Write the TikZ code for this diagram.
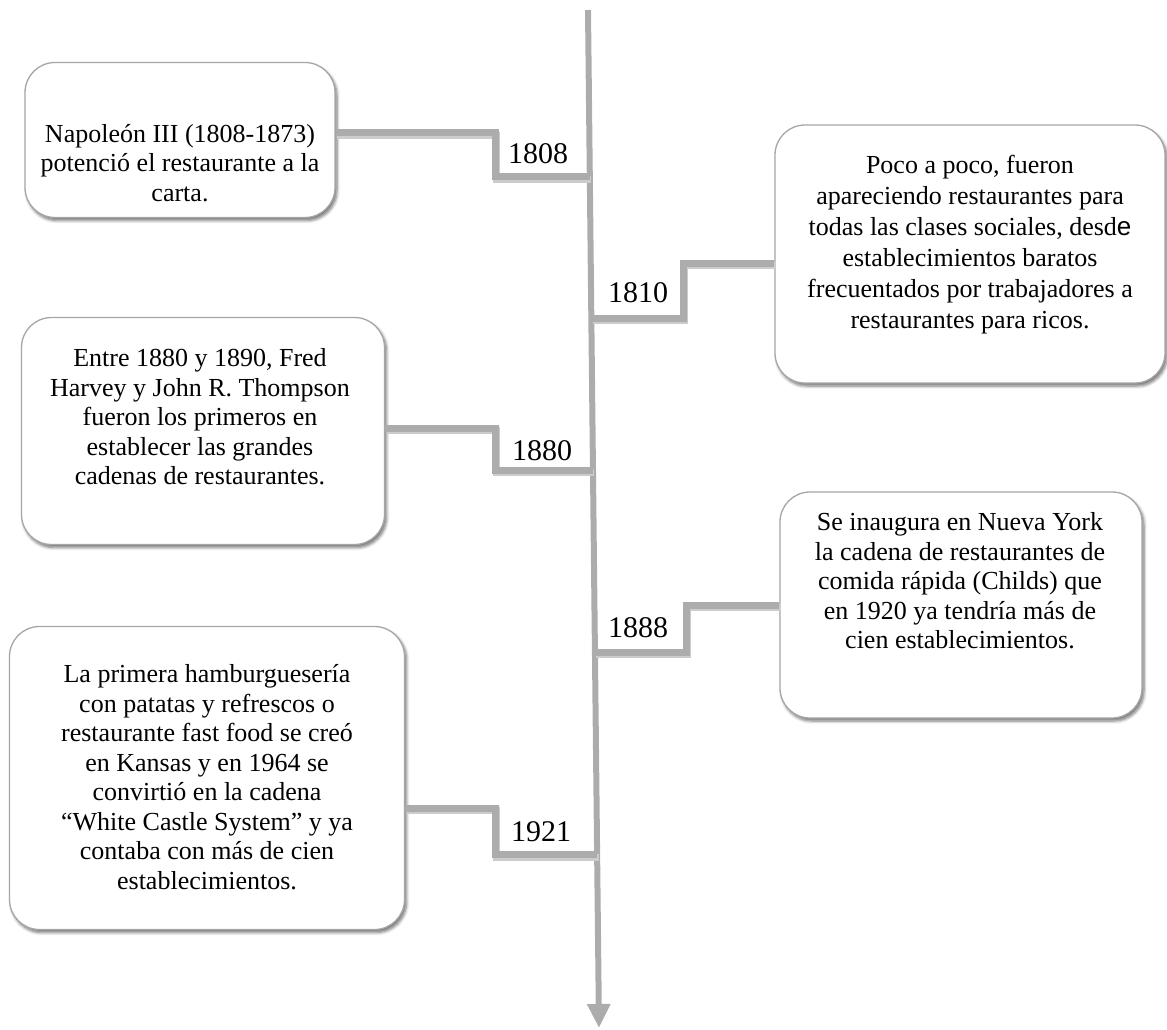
\documentclass[tikz,border=0pt]{standalone}
\usepackage{fontspec}
\setmainfont{Liberation Serif}
\newfontfamily\efont{Liberation Sans}
\usetikzlibrary{arrows.meta,calc,shadows.blur}

\begin{document}
\begin{tikzpicture}[x=1pt,y=-1pt,
    card/.style={draw=gray!70,line width=1.3pt,fill=white,rounded corners=30pt,
      blur shadow={shadow xshift=2pt,shadow yshift=-3pt,shadow blur radius=3pt,
        shadow blur steps=6,shadow opacity=55}},
    txt/.style={align=center,inner sep=0pt,font=\fontsize{26}{29.5}\selectfont},
    year/.style={inner sep=0pt,font=\fontsize{30}{32}\selectfont},
    conn/.style={draw=gray!65,line width=7pt,
      preaction={draw=black!20,line width=7pt,transform canvas={shift={(1.5pt,-2.5pt)}}}},
  ]
    \useasboundingbox (0,0) rectangle (1167,1030);

    \coordinate (top) at (588,10);
    \coordinate (bottom) at (599,1028);

    \coordinate (t1808) at ($(top)!0.164!(bottom)$);
    \coordinate (t1810) at ($(top)!0.303!(bottom)$);
    \coordinate (t1880) at ($(top)!0.452!(bottom)$);
    \coordinate (t1888) at ($(top)!0.631!(bottom)$);
    \coordinate (t1921) at ($(top)!0.830!(bottom)$);

    \draw[draw=gray!65,line width=6pt,-{Triangle[width=22pt,length=24pt]}] (top) -- (bottom);

    \node[card,minimum width=310pt,minimum height=155pt] (napoleon) at (180,140) {};
    \node[card,minimum width=390pt,minimum height=258pt] (poco) at (970,254) {};
    \node[card,minimum width=363pt,minimum height=227pt] (harvey) at (203,431) {};
    \node[card,minimum width=362pt,minimum height=226pt] (childs) at (961,605) {};
    \node[card,minimum width=395pt,minimum height=303pt] (castle) at (207,778) {};

    \node[txt] (napoleontxt) at (180,163) {Napoleón III (1808-1873)\\potenció el restaurante a la\\carta.};
    \node[txt,font=\fontsize{26}{31}\selectfont] (pocotxt) at (970,245) {Poco a poco, fueron\\apareciendo restaurantes para\\todas las clases sociales, desd{\efont e}\\establecimientos baratos\\frecuentados por trabajadores a\\restaurantes para ricos.};
    \node[txt] (harveytxt) at (200,417) {Entre 1880 y 1890, Fred\\Harvey y John R. Thompson\\fueron los primeros en\\establecer las grandes\\cadenas de restaurantes.};
    \node[txt] (childstxt) at (960,581) {Se inaugura en Nueva York\\la cadena de restaurantes de\\comida rápida (Childs) que\\en 1920 ya tendría más de\\cien establecimientos.};
    \node[txt] (castletxt) at (207,777) {La primera hamburguesería\\con patatas y refrescos o\\restaurante fast food se creó\\en Kansas y en 1964 se\\convirtió en la cadena\\“White Castle System” y ya\\contaba con más de cien\\establecimientos.};

    \draw[conn] ([yshift=7pt]napoleon.east) -- (495,133) |- (t1808);
    \draw[conn] ([yshift=-9pt]poco.west) -- (683,263) |- (t1810);
    \draw[conn] ([yshift=3pt]harvey.east) -- (495,428) |- (t1880);
    \draw[conn] (childs.west) -- (686,605) |- (t1888);
    \draw[conn] ([yshift=-30pt]castle.east) -- (495,808) |- (t1921);

    \node[year] (y1808) at (538,154) {1808};
    \node[year] (y1810) at (638,293) {1810};
    \node[year] (y1880) at (542,451) {1880};
    \node[year] (y1888) at (638,628) {1888};
    \node[year] (y1921) at (541,832) {1921};
\end{tikzpicture}
\end{document}
